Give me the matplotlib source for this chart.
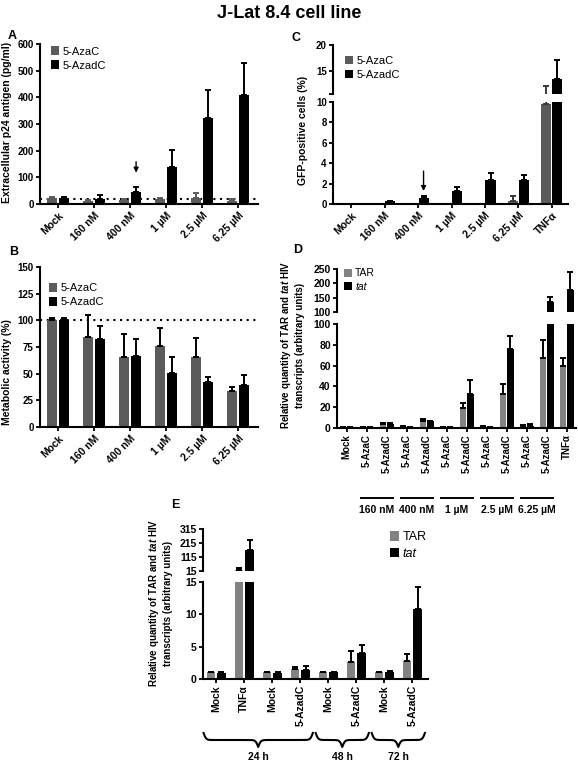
import numpy as np
import matplotlib
matplotlib.use('Agg')
import matplotlib.pyplot as plt
from matplotlib.patches import Patch
import matplotlib.transforms as mtransforms

W, H = 578, 764
plt.rcParams['font.family'] = ['Liberation Sans', 'DejaVu Sans']
plt.rcParams['font.weight'] = 'bold'
plt.rcParams['mathtext.fontset'] = 'custom'
plt.rcParams['mathtext.rm'] = 'Liberation Sans:bold'
plt.rcParams['mathtext.it'] = 'Liberation Sans:italic:bold'
plt.rcParams['mathtext.bf'] = 'Liberation Sans:bold'

# ---------------- data ----------------
a_cats = ['Mock', '160 nM', '400 nM', '1 µM', '2.5 µM', '6.25 µM']
a_azac = [22, 12, 16, 18, 22, 12]
a_azac_top = [25, 16, 20, 23, 41, 18]
a_azadc = [22, 20, 44, 137, 324, 408]
a_azadc_top = [25, 32, 64, 201, 428, 530]
a_baseline = 20
a_arrow = (169, 107)

b_cats = ['Mock', '160 nM', '400 nM', '1 µM', '2.5 µM', '6.25 µM']
b_azac = [100, 84.4, 65.6, 75.6, 65.3, 34]
b_azac_top = [102, 105, 87.2, 92.8, 83.4, 37.1]
b_azadc = [100, 82.5, 66.8, 50.6, 41.8, 39.7]
b_azadc_top = [102, 94.3, 82.5, 65.3, 46.5, 48.4]
b_baseline = 100

c_cats = ['Mock', '160 nM', '400 nM', '1 µM', '2.5 µM', '6.25 µM', 'TNFα']
c_azac = [0.03, 0.02, 0.03, 0.03, 0.05, 0.3, 9.8]
c_azac_top = [0.03, 0.02, 0.03, 0.03, 0.05, 0.78, 12.1]
c_azadc = [0.05, 0.26, 0.55, 1.23, 2.37, 2.4, 13.3]
c_azadc_top = [0.05, 0.3, 0.75, 1.66, 3.08, 2.86, 17.1]
c_arrow = (3.5, 1.0)

d_cats = ['Mock', '5-AzaC', '5-AzadC', '5-AzaC', '5-AzadC', '5-AzaC', '5-AzadC',
          '5-AzaC', '5-AzadC', '5-AzaC', '5-AzadC', 'TNFα']
d_tar = [1.0, 0.8, 3.5, 1.2, 7.0, 1.0, 19.5, 1.2, 33, 2.2, 67.5, 60]
d_tar_top = [1.3, 1.0, 4.5, 1.5, 9.0, 1.2, 24, 1.5, 42, 3.0, 84.5, 67.5]
d_tat = [1.0, 0.8, 3.5, 1.2, 6.5, 0.8, 32.5, 0.8, 76, 2.0, 134, 178]
d_tat_top = [1.2, 1.0, 4.5, 1.4, 7.0, 1.0, 46, 1.0, 88, 4.0, 152, 239]
d_groups = ['160 nM', '400 nM', '1 µM', '2.5 µM', '6.25 µM']
d_group_idx = [(1, 2), (3, 4), (5, 6), (7, 8), (9, 10)]

e_cats = ['Mock', 'TNFα', 'Mock', '5-AzadC', 'Mock', '5-AzadC', 'Mock', '5-AzadC']
e_tar = [1.05, 25, 1.05, 1.55, 1.05, 2.7, 1.05, 2.8]
e_tar_top = [1.1, 35, 1.1, 1.9, 1.1, 4.3, 1.1, 3.9]
e_tat = [1.0, 165, 1.0, 1.45, 1.05, 4.0, 1.15, 10.9]
e_tat_top = [1.1, 233, 1.1, 1.95, 1.1, 5.3, 1.25, 14.2]
e_groups = ['24 h', '48 h', '72 h']
e_group_idx = [(0, 3), (4, 5), (6, 7)]

GREY = '#5b5b5b'
LGREY = '#828282'

fig = plt.figure(figsize=(W / 100, H / 100), dpi=100)


def px_axes(x0, y0, x1, y1):
    return fig.add_axes([x0 / W, 1 - y1 / H, (x1 - x0) / W, (y1 - y0) / H])


def fy(y):
    return 1 - y / H


def style(ax, size=7, xsize=None, bottom=True):
    for s in ['top', 'right']:
        ax.spines[s].set_visible(False)
    ax.spines['left'].set_linewidth(1.5)
    ax.spines['bottom'].set_linewidth(1.5)
    if not bottom:
        ax.spines['bottom'].set_visible(False)
        ax.tick_params(axis='x', bottom=False, labelbottom=False)
    ax.tick_params(axis='both', width=1.3, length=3, labelsize=size, pad=1.5)
    if xsize:
        ax.tick_params(axis='x', labelsize=xsize)


def bars(ax, x, v1, t1, v2, t2, width, off, c1, c2, e1='black', e2='black', ylo=0):
    x = np.asarray(x, float)
    v1, t1, v2, t2 = map(lambda a: np.asarray(a, float), (v1, t1, v2, t2))
    ax.bar(x - off, v1, width, color=c1, zorder=2)
    ax.bar(x + off, v2, width, color=c2, zorder=2)
    for xs, v, t, ec in ((x - off, v1, t1, e1), (x + off, v2, t2, e2)):
        m = (t > v + 1e-9) & (t > ylo)
        if m.any():
            ax.errorbar(xs[m], v[m], yerr=[np.zeros(m.sum()), (t - v)[m]], fmt='none',
                        ecolor=ec, elinewidth=1.4, capsize=2.2, capthick=1.4, zorder=3)


def legend(ax, labels, colors, anchor, size=8, italic_second=False):
    hs = [Patch(facecolor=c, edgecolor='none') for c in colors]
    lg = ax.legend(hs, labels, loc='upper left', bbox_to_anchor=anchor, frameon=False,
                   handlelength=0.75, handleheight=0.8, handletextpad=0.3,
                   labelspacing=0.35, borderpad=0, borderaxespad=0,
                   prop={'size': size, 'weight': 'normal'})
    if italic_second:
        lg.get_texts()[1].set_fontstyle('italic')
    return lg


# ---------------- Title & panel letters ----------------
fig.text(0.5, fy(13), 'J-Lat 8.4 cell line', ha='center', va='center', fontsize=13)
for lab, (x, y) in {'A': (12, 36), 'B': (14, 252), 'C': (296, 38), 'D': (298, 250),
                    'E': (175, 505)}.items():
    fig.text(x / W, fy(y), lab, ha='center', va='center', fontsize=9)

# ---------------- Panel A ----------------
axA = px_axes(40, 44, 258, 204)
xa = np.arange(len(a_cats))
bars(axA, xa, a_azac, a_azac_top, a_azadc, a_azadc_top, 0.29, 0.167, GREY, 'black', e1=GREY)
axA.axhline(a_baseline, color='black', ls=(0, (1, 2.2)), lw=1.5, zorder=1)
axA.set_xlim(-0.5, 5.55)
axA.set_ylim(0, 600)
axA.set_yticks(range(0, 601, 100))
axA.set_xticks(xa)
axA.set_xticklabels(a_cats, rotation=45, ha='right', rotation_mode='anchor')
style(axA, size=7, xsize=7.5)
axA.annotate('', xy=(2 + 0.167, a_arrow[1]), xytext=(2 + 0.167, a_arrow[0]),
             arrowprops=dict(arrowstyle='-|>', color='black', lw=1.0, mutation_scale=7))
legend(axA, ['5-AzaC', '5-AzadC'], [GREY, 'black'], (0.05, 0.985))
fig.text(7 / W, fy(122), 'Extracellular p24 antigen (pg/ml)', rotation=90,
         ha='center', va='center', fontsize=7.5)

# ---------------- Panel B ----------------
axB = px_axes(40, 267, 258, 427)
bars(axB, xa, b_azac, b_azac_top, b_azadc, b_azadc_top, 0.29, 0.167, GREY, 'black')
axB.axhline(b_baseline, color='black', ls=(0, (1, 2.2)), lw=1.5, zorder=1)
axB.set_xlim(-0.5, 5.55)
axB.set_ylim(0, 150)
axB.set_yticks(range(0, 151, 25))
axB.set_xticks(xa)
axB.set_xticklabels(b_cats, rotation=45, ha='right', rotation_mode='anchor')
style(axB, size=7, xsize=7.5)
legend(axB, ['5-AzaC', '5-AzadC'], [GREY, 'black'], (0.04, 0.9))
fig.text(7 / W, fy(372), 'Metabolic activity (%)', rotation=90,
         ha='center', va='center', fontsize=7.5)

# ---------------- Panel C ----------------
xc = np.arange(len(c_cats))
axCu = px_axes(333, 45, 568, 94)
axCl = px_axes(333, 102, 568, 204)
bars(axCu, xc, c_azac, c_azac_top, c_azadc, c_azadc_top, 0.3, 0.165, GREY, 'black',
     e1='#3a3a3a', ylo=10.45)
bars(axCl, xc, c_azac, c_azac_top, c_azadc, c_azadc_top, 0.3, 0.165, GREY, 'black',
     e1='#3a3a3a')
for ax in (axCu, axCl):
    ax.set_xlim(-0.54, 6.48)
axCu.set_ylim(10.45, 20)
axCu.set_yticks([10.45, 15, 20])
axCu.set_yticklabels(['', '15', '20'])
style(axCu, size=7, bottom=False)
axCl.set_ylim(0, 10)
axCl.set_yticks(range(0, 11, 2))
axCl.set_xticks(xc)
axCl.set_xticklabels(c_cats, rotation=45, ha='right', rotation_mode='anchor')
style(axCl, size=7, xsize=7.5)
axCl.annotate('', xy=(2 + 0.165, c_arrow[1]), xytext=(2 + 0.165, c_arrow[0]),
              arrowprops=dict(arrowstyle='-|>', color='black', lw=1.0, mutation_scale=7))
legend(axCu, ['5-AzaC', '5-AzadC'], [GREY, 'black'], (0.05, 0.78))
fig.text(303 / W, fy(130), 'GFP-positive cells (%)', rotation=90,
         ha='center', va='center', fontsize=7.5)

# ---------------- Panel D ----------------
xd = np.arange(len(d_cats))
axDu = px_axes(337, 269, 576, 312)
axDl = px_axes(337, 324, 576, 428)
bars(axDu, xd, d_tar, d_tar_top, d_tat, d_tat_top, 0.33, 0.185, LGREY, 'black', ylo=100)
bars(axDl, xd, d_tar, d_tar_top, d_tat, d_tat_top, 0.33, 0.185, LGREY, 'black')
for ax in (axDu, axDl):
    ax.set_xlim(-0.48, 11.47)
axDu.set_ylim(100, 250)
axDu.set_yticks([100, 150, 200, 250])
style(axDu, size=7.5, bottom=False)
axDl.set_ylim(0, 100)
axDl.set_yticks(range(0, 101, 20))
axDl.set_xticks(xd)
axDl.set_xticklabels(d_cats, rotation=90, ha='center', va='top')
style(axDl, size=7.5, xsize=7)
legend(axDu, ['TAR', 'tat'], [LGREY, 'black'], (0.03, 1.02), size=7.5, italic_second=True)
tD = mtransforms.blended_transform_factory(axDl.transData, fig.transFigure)
for name, (i0, i1) in zip(d_groups, d_group_idx):
    axDl.plot([i0 - 0.3, i1 + 0.3], [fy(498), fy(498)], color='black', lw=1.4,
              transform=tD, clip_on=False)
    axDl.text((i0 + i1) / 2, fy(510), name, transform=tD, ha='center', va='center',
              fontsize=7.5)
fig.text(292 / W, fy(345),
         'Relative quantity of TAR and $\\it{tat}$ HIV\ntranscripts (arbitrary units)',
         rotation=90, ha='center', va='center', fontsize=7, linespacing=1.15)

# ---------------- Panel E ----------------
xe = np.arange(len(e_cats))
axEu = px_axes(203, 529, 428, 571)
axEl = px_axes(203, 582, 428, 679)
bars(axEu, xe, e_tar, e_tar_top, e_tat, e_tat_top, 0.3, 0.19, LGREY, 'black', ylo=15)
bars(axEl, xe, e_tar, e_tar_top, e_tat, e_tat_top, 0.3, 0.19, LGREY, 'black')
for ax in (axEu, axEl):
    ax.set_xlim(-0.47, 7.56)
axEu.set_ylim(15, 315)
axEu.set_yticks([15, 115, 215, 315])
style(axEu, size=7.5, bottom=False)
axEl.set_ylim(0, 15)
axEl.set_yticks([0, 5, 10, 15])
axEl.set_xticks(xe)
axEl.set_xticklabels(e_cats, rotation=90, ha='center', va='top')
style(axEl, size=7.5, xsize=7.5)
legend(axEu, ['TAR', 'tat'], [LGREY, 'black'], (0.83, 0.95), size=9, italic_second=True)
tE = mtransforms.blended_transform_factory(axEl.transData, fig.transFigure)


def brace(ax, trans, x0, x1, ytop, h, beta=22, m=150):
    xs = np.linspace(x0, x1, 2 * m + 1)
    half = xs[:m + 1]
    yh = (1 / (1 + np.exp(-beta * (half - half[0]))) +
          1 / (1 + np.exp(-beta * (half - half[-1]))))
    yy = np.concatenate((yh, yh[-2::-1]))
    ypx = ytop + (yy - 0.5) * h
    ax.plot(xs, fy(ypx), color='black', lw=1.5, transform=trans, clip_on=False)


for name, (i0, i1) in zip(e_groups, e_group_idx):
    brace(axEl, tE, i0 - 0.45, i1 + 0.45, 733, 14)
    axEl.text((i0 + i1) / 2, fy(757), name, transform=tE, ha='center', va='center',
              fontsize=7.5)
fig.text(160 / W, fy(603),
         'Relative quantity of TAR and $\\it{tat}$ HIV\ntranscripts (arbitrary units)',
         rotation=90, ha='center', va='center', fontsize=7, linespacing=1.15)

fig.savefig('out.png', dpi=100)
